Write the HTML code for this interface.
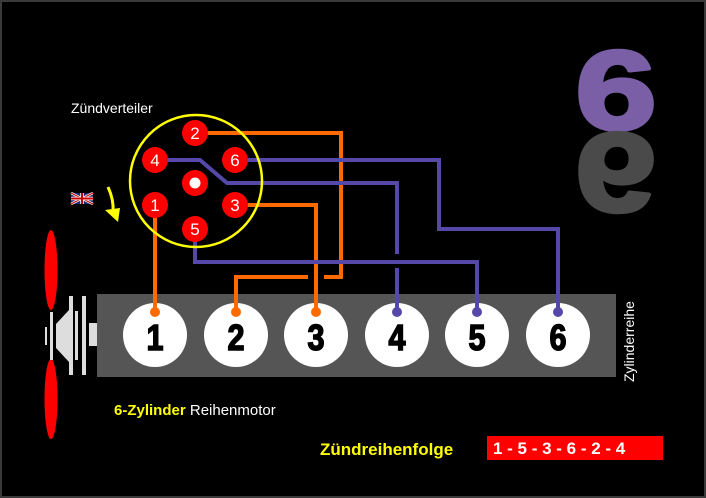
<!DOCTYPE html>
<html><head><meta charset="utf-8"><style>
html,body{margin:0;padding:0;background:#000;}
svg{display:block;}
</style></head><body>
<svg width="706" height="498" viewBox="0 0 706 498" xmlns="http://www.w3.org/2000/svg" font-family="Liberation Sans, DejaVu Sans, sans-serif">
<rect x="0" y="0" width="706" height="498" fill="#000"/>
<rect x="1" y="1" width="704" height="496" fill="none" stroke="#3a3a3a" stroke-width="2"/>
<!-- big 6 -->
<g transform="translate(616,0) scale(1.3,1) translate(-616,0)">
<text x="616" y="129" font-size="112" font-weight="bold" fill="#7a5ea6" stroke="#7a5ea6" stroke-width="4" stroke-linejoin="round" text-anchor="middle">6</text>
</g>
<g transform="translate(616,264) scale(1.3,-1) translate(-616,0)">
<text x="616" y="130" font-size="112" font-weight="bold" fill="#4a4a4a" stroke="#4a4a4a" stroke-width="4" stroke-linejoin="round" text-anchor="middle">6</text>
</g>
<!-- engine block -->
<rect x="97" y="294" width="519" height="83" fill="#555"/>
<g fill="#fff">
<circle cx="155" cy="335" r="32"/><circle cx="236" cy="335" r="32"/><circle cx="316" cy="335" r="32"/>
<circle cx="397" cy="335" r="32"/><circle cx="477" cy="335" r="32"/><circle cx="558" cy="335" r="32"/>
</g>
<g font-size="36" font-weight="bold" fill="#000" stroke="#000" stroke-width="1.5" text-anchor="middle">
<text x="155" y="350" transform="translate(155,0) scale(0.85,1) translate(-155,0)">1</text>
<text x="236" y="350" transform="translate(236,0) scale(0.85,1) translate(-236,0)">2</text>
<text x="316" y="350" transform="translate(316,0) scale(0.85,1) translate(-316,0)">3</text>
<text x="397" y="350" transform="translate(397,0) scale(0.85,1) translate(-397,0)">4</text>
<text x="477" y="350" transform="translate(477,0) scale(0.85,1) translate(-477,0)">5</text>
<text x="558" y="350" transform="translate(558,0) scale(0.85,1) translate(-558,0)">6</text>
</g>
<text transform="translate(634,382) rotate(-90)" font-size="14" fill="#fff">Zylinderreihe</text>
<!-- fan & pulley -->
<ellipse cx="51" cy="270" rx="6.5" ry="40" fill="#f00"/>
<ellipse cx="51" cy="399" rx="6.5" ry="40" fill="#f00"/>
<g fill="#ddd">
<rect x="45" y="327" width="2" height="18"/>
<rect x="50" y="312" width="3" height="48"/>
<polygon points="56,324 69,310 69,362 56,348"/>
<rect x="69" y="296" width="4" height="79"/>
<rect x="75" y="311" width="3" height="49"/>
<rect x="82" y="296" width="4" height="79"/>
<rect x="89" y="323" width="8" height="23"/>
</g>
<!-- wires -->
<g fill="none" stroke-width="4" stroke-linejoin="miter">
<path d="M195 133 H341 V277 H324" stroke="#ff6a00"/>
<path d="M308 277 H236 V310" stroke="#ff6a00"/>
<path d="M235 205 H316 V310" stroke="#ff6a00"/>
<path d="M155 205 V310" stroke="#ff6a00"/>
<path d="M235 160 H439 V229 H558 V310" stroke="#5548a8"/>
<path d="M155 160 H200 L227 183 H397 V254 M397 268 V310" stroke="#5548a8"/>
<path d="M195 229 V262 H477 V310" stroke="#5548a8"/>
</g>
<g fill="#ff6a00"><circle cx="155" cy="312" r="5"/><circle cx="236" cy="312" r="5"/><circle cx="316" cy="312" r="5"/></g>
<g fill="#5548a8"><circle cx="397" cy="312" r="5"/><circle cx="477" cy="312" r="5"/><circle cx="558" cy="312" r="5"/></g>
<!-- distributor -->
<circle cx="196" cy="181" r="66" fill="none" stroke="#ffff00" stroke-width="2.5"/>
<g fill="#f00">
<circle cx="195" cy="133" r="13"/><circle cx="155" cy="160" r="13"/><circle cx="235" cy="160" r="13"/>
<circle cx="195" cy="183" r="13"/><circle cx="155" cy="205" r="13"/><circle cx="235" cy="205" r="13"/><circle cx="195" cy="229" r="13"/>
</g>
<circle cx="195" cy="183" r="5.5" fill="#fff"/>
<g font-size="17" fill="#fff" text-anchor="middle">
<text x="195" y="139">2</text><text x="155" y="166">4</text><text x="235" y="166">6</text>
<text x="155" y="211">1</text><text x="235" y="211">3</text><text x="195" y="235">5</text>
</g>
<text x="71" y="113" font-size="14" fill="#fff">Zündverteiler</text>
<!-- flag -->
<g transform="translate(71,193)">
<rect width="22" height="11" fill="#1a2a7a"/>
<path d="M0 0 L22 11 M22 0 L0 11" stroke="#fff" stroke-width="2.5"/>
<path d="M0 0 L22 11 M22 0 L0 11" stroke="#c00" stroke-width="1"/>
<path d="M11 0 V11 M0 5.5 H22" stroke="#fff" stroke-width="3.5"/>
<path d="M11 0 V11 M0 5.5 H22" stroke="#c00" stroke-width="2"/>
</g>
<!-- arrow -->
<path d="M108 187 Q114 200 113 212" fill="none" stroke="#ffff00" stroke-width="3"/>
<polygon points="105,210 120,208 118,222" fill="#ffff00"/>
<!-- labels -->
<text x="114" y="415" font-size="15"><tspan fill="#ffff00" font-weight="bold">6-Zylinder</tspan><tspan fill="#fff"> Reihenmotor</tspan></text>
<text x="320" y="455" font-size="17" font-weight="bold" fill="#ffff00">Zündreihenfolge</text>
<rect x="487" y="436" width="176" height="24" fill="#f00"/>
<text x="493" y="454" font-size="17" font-weight="bold" fill="#fff" xml:space="preserve">1 - 5 - 3 - 6 - 2 - 4</text>
</svg>
</body></html>
